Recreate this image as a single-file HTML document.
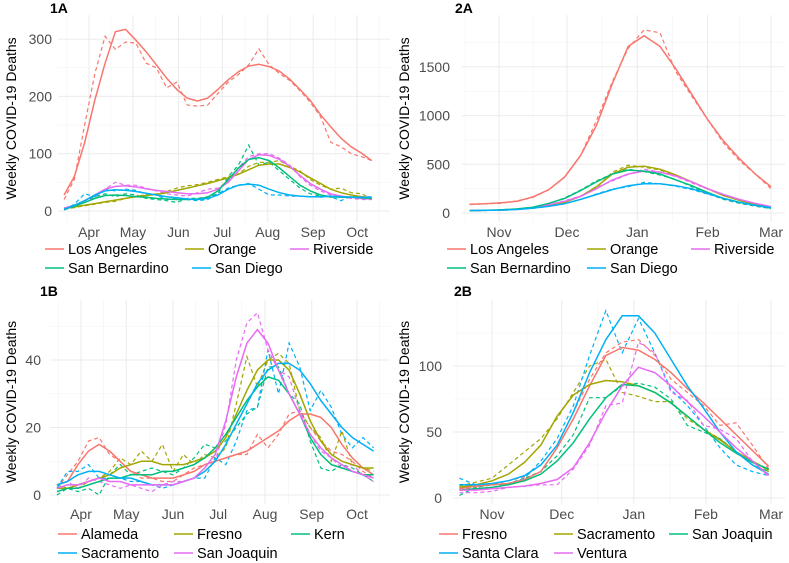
<!DOCTYPE html>
<html><head><meta charset="utf-8"><style>
body{margin:0;background:#fff}
svg{display:block;font-family:"Liberation Sans",sans-serif}
</style></head><body>
<svg id="chart" width="789" height="563" viewBox="0 0 789 563" xmlns="http://www.w3.org/2000/svg"></svg>
<script>
// ---------- data ----------
const p1aNames=["Los Angeles","Orange","Riverside","San Bernardino","San Diego"];
const p1aSmooth=[
[28,60,119,194,258,313,317,298,278,255,232,212,197,192,197,212,229,243,253,256,252,244,230,212,193,168,147,127,112,101,88],
[5,7,10,13,16,19,22,25,27,29,32,36,40,44,48,53,58,64,72,80,82,82,76,68,58,48,38,32,28,25,23],
[5,10,18,28,38,43,44,42,39,36,34,32,30,30,32,38,50,70,90,98,97,90,78,62,48,38,30,26,24,22,21],
[3,8,15,22,27,28,27,25,24,22,21,20,20,21,24,35,55,75,90,93,88,75,60,45,35,28,25,24,24,23,22],
[3,10,18,28,35,37,36,34,31,28,25,23,21,20,22,28,38,45,47,45,38,32,28,26,25,25,26,25,24,24,24]];
const p1aRaw=[
[20,55,150,240,305,282,295,293,258,250,215,225,185,183,185,205,225,238,255,283,255,240,228,210,190,165,120,112,100,95,88],
[3,6,9,12,15,17,22,26,28,30,34,40,44,46,50,55,60,65,78,85,85,88,78,70,55,45,38,40,32,30,22],
[2,10,15,25,38,50,45,45,40,35,30,28,26,32,38,40,52,75,95,100,100,92,80,60,45,35,28,25,22,20,20],
[2,8,18,25,30,25,30,28,22,20,18,15,22,22,25,30,60,80,115,80,85,70,55,40,30,26,24,25,25,22,20],
[2,12,30,25,38,35,38,36,30,28,20,22,20,18,20,30,40,45,48,38,28,28,26,26,25,24,25,18,26,25,25]];
const p2aNames=["Los Angeles","Orange","Riverside","San Bernardino","San Diego"];
const p2aSmooth=[
[90,95,105,120,165,240,370,590,900,1330,1710,1820,1710,1480,1220,960,740,560,400,270],
[25,28,30,38,55,80,110,170,270,400,470,480,450,390,320,250,180,130,90,60],
[25,28,30,38,55,85,120,170,250,340,400,430,420,380,320,250,190,140,100,65],
[25,28,32,42,60,100,150,230,320,400,440,430,400,340,280,210,150,110,80,50],
[25,28,30,36,50,70,95,140,190,240,280,300,300,280,250,200,150,110,80,55]];
const p2aRaw=[
[85,95,100,125,160,240,370,590,950,1350,1690,1880,1850,1450,1200,960,720,540,400,250],
[25,28,30,40,55,80,115,170,260,420,490,470,440,385,320,250,185,130,85,55],
[22,28,32,38,55,85,125,175,260,330,395,450,420,375,310,245,190,140,95,60],
[22,25,35,40,60,95,155,235,330,400,450,425,390,345,270,200,140,100,70,45],
[22,30,28,38,48,68,95,140,195,245,270,315,300,275,240,195,150,105,75,50]];
const p1bNames=["Alameda","Fresno","Kern","Sacramento","San Joaquin"];
const p1bSmooth=[
[3,4,9,13,15,13,10,7,6,5,5,5,6,7,9,10,11,12,13,15,17,19,22,24,24,23,20,15,11,8,6],
[2,2,3,4,5,6,8,9,10,10,9,9,9,10,11,13,17,24,31,37,40,40,37,30,22,16,12,10,9,8,8],
[1,2,2,3,4,5,5,6,6,6,7,7,8,9,11,14,18,23,28,32,35,34,30,24,17,12,9,8,7,6,6],
[3,4,6,7,7,6,5,5,4,3,3,3,4,5,7,10,15,21,27,33,37,39,39,37,33,28,24,20,17,15,13],
[2,3,3,4,5,4,4,3,3,3,3,3,4,5,8,12,22,35,45,49,45,37,30,24,18,14,11,9,7,6,5]];
const p1bRaw=[
[2,6,10,16,17,12,10,7,5,5,4,4,6,8,9,10,11,12,12,18,14,18,24,25,20,16,13,12,10,7,5],
[3,2,2,4,5,7,11,9,13,10,15,7,12,9,12,11,14,27,41,32,40,42,39,25,20,17,10,19,9,8,7],
[0,2,1,2,0,6,9,6,7,8,7,6,8,11,15,14,16,20,24,26,38,38,30,27,16,8,7,9,8,6,4],
[2,7,7,9,5,5,5,4,4,3,2,3,4,5,5,11,9,16,25,26,43,30,45,38,25,31,26,18,14,17,14],
[3,4,2,5,4,3,2,3,2,1,3,4,4,5,7,10,21,40,51,54,43,37,35,25,18,13,11,8,9,6,4]];
const p2bNames=["Fresno","Sacramento","San Joaquin","Santa Clara","Ventura"];
const p2bSmooth=[
[7,9,10,11,14,20,38,60,85,108,114,112,105,95,83,72,60,48,36,24],
[8,10,13,18,27,40,62,78,86,89,88,85,80,72,62,52,44,35,28,21],
[6,7,8,10,13,18,28,42,60,76,86,85,80,72,62,52,42,34,27,22],
[10,10,11,13,17,25,40,65,95,120,138,138,125,105,85,68,50,35,25,18],
[6,6,7,8,9,11,14,23,42,65,85,99,95,85,73,62,50,38,28,17]];
const p2bRaw=[
[6,8,10,13,16,25,40,65,90,110,118,120,108,90,80,70,55,57,40,22],
[9,12,15,25,35,45,60,80,100,105,80,77,73,73,60,52,45,35,25,20],
[2,8,10,10,15,20,32,48,76,76,85,87,84,75,55,50,45,35,25,20],
[15,10,10,11,15,28,45,70,108,142,110,136,110,82,70,55,38,25,20,17],
[4,4,5,8,9,10,10,22,40,70,72,118,110,80,74,55,52,45,28,16]];
const monthsA=["Apr","May","Jun","Jul","Aug","Sep","Oct"];
const monthDaysA=[0,30,61,91,122,153,183];
const monthsB=["Nov","Dec","Jan","Feb","Mar"];
const monthDaysB=[0,30,61,92,120];
const ticks1a=[0,100,200,300];
const ticks2a=[0,500,1000,1500];
const ticks1b=[0,20,40];
const ticks2b=[0,50,100];
const cols1=["#F8766D","#A3A500","#E76BF3","#00BF7D","#00B0F6"];
const cols1b=["#F8766D","#A3A500","#00BF7D","#00B0F6","#E76BF3"];
const cols2b=["#F8766D","#A3A500","#00BF7D","#00B0F6","#E76BF3"];

const NS="http://www.w3.org/2000/svg";
const svg=document.getElementById('chart');
function mk(tag,attrs,parent){const e=document.createElementNS(NS,tag);for(const k in attrs)e.setAttribute(k,attrs[k]);(parent||svg).appendChild(e);return e;}

function panel(o){
  const g=mk('g',{});
  
  
  const xs=d=>o.x0+o.pxDay*d;
  const ys=v=>o.y0-v*o.pxVal;
  for(let i=0;i<o.ticks.length;i++){
    const step=o.ticks[1]-o.ticks[0];
    const yv=ys(o.ticks[i]+step/2);
    if(yv>o.top) mk('line',{x1:o.left,x2:o.right,y1:yv,y2:yv,stroke:'#f3f3f3','stroke-width':0.6},g);
  }
  for(let i=0;i<o.mdays.length-1;i++){
    const xv=xs((o.mdays[i]+o.mdays[i+1])/2);
    mk('line',{x1:xv,x2:xv,y1:o.top,y2:o.bottom,stroke:'#f3f3f3','stroke-width':0.6},g);
  }
  const xfirst=xs(o.mdays[0]-(o.mdays[1]-o.mdays[0])/2);
  if(xfirst>o.left) mk('line',{x1:xfirst,x2:xfirst,y1:o.top,y2:o.bottom,stroke:'#f3f3f3','stroke-width':0.6},g);
  const lastMid=xs(o.mdays[o.mdays.length-1]+(o.mdays[1]-o.mdays[0])/2);
  if(lastMid<o.right) mk('line',{x1:lastMid,x2:lastMid,y1:o.top,y2:o.bottom,stroke:'#f3f3f3','stroke-width':0.6},g);
  o.ticks.forEach(t=>{
    const yv=ys(t);
    const gl=mk('line',{x1:o.left,x2:o.right,y1:yv,y2:yv,stroke:'#ebebeb','stroke-width':1},g);
    
    
    const tx=mk('text',{x:o.ylabX,y:yv+5,'text-anchor':'end','font-size':14,fill:'#4d4d4d'},g);
    tx.textContent=t;
    
    
  });
  o.mdays.forEach((d,i)=>{
    const xv=xs(d);
    const gl=mk('line',{x1:xv,x2:xv,y1:o.top,y2:o.bottom,stroke:'#ebebeb','stroke-width':1},g);
    
    
    const tx=mk('text',{x:xv,y:o.bottom+15,'text-anchor':'middle','font-size':14,fill:'#4d4d4d'},g);
    tx.textContent=o.months[i];
    
    
  });
  o.smooth.forEach((s,si)=>{
    const ptsR=o.raw[si].map((v,k)=>xs(o.start+7*k).toFixed(1)+','+ys(v).toFixed(1)).join(' ');
    const r=mk('polyline',{points:ptsR,fill:'none',stroke:o.cols[si],'stroke-width':1.2,'stroke-dasharray':'4,3'},g);
    
    
  });
  o.smooth.forEach((s,si)=>{
    const pts=s.map((v,k)=>xs(o.start+7*k).toFixed(1)+','+ys(v).toFixed(1)).join(' ');
    const l=mk('polyline',{points:pts,fill:'none',stroke:o.cols[si],'stroke-width':1.5,'stroke-linejoin':'round'},g);
    
    
  });
  const t=mk('text',{x:o.titleX,y:o.titleY,'font-size':14,'font-weight':'bold',fill:'#000'},g);
  t.textContent=o.title;
  
  
  const yt=mk('text',{x:0,y:0,'font-size':14,fill:'#000','text-anchor':'middle',transform:`translate(${o.ytX},${(o.top+o.bottom)/2}) rotate(-90)`},g);
  yt.textContent='Weekly COVID-19 Deaths';
  
  
  o.legPos.forEach((p,i)=>{
    const lg=mk('g',{},g);
    
    
    mk('line',{x1:p[0]-23,x2:p[0]-4,y1:p[1]-5,y2:p[1]-5,stroke:o.cols[i],'stroke-width':1.5},lg);
    const tx=mk('text',{x:p[0],y:p[1],'font-size':14.5,fill:'#000'},lg);
    tx.textContent=o.names[i];
  });
}

panel({id:'1a',title:'1A',titleX:50,titleY:13,left:58,right:390,top:15,bottom:222,x0:89,pxDay:1.465,y0:211,pxVal:0.573,
  start:-17,ticks:ticks1a,ylabX:52,ytX:16,months:monthsA,mdays:monthDaysA,names:p1aNames,smooth:p1aSmooth,raw:p1aRaw,cols:cols1,
  legPos:[[68,254],[208,254],[313,254],[68,273],[215,273]]});
panel({id:'2a',title:'2A',titleX:455,titleY:13,left:462,right:785,top:15,bottom:222,x0:499,pxDay:2.267,y0:213,pxVal:0.0974,
  start:-13,ticks:ticks2a,ylabX:450,ytX:409,months:monthsB,mdays:monthDaysB,names:p2aNames,smooth:p2aSmooth,raw:p2aRaw,cols:cols1,
  legPos:[[470,254],[610,254],[714,254],[470,273],[610,273]]});
panel({id:'1b',title:'1B',titleX:40,titleY:296,left:50,right:390,top:300,bottom:504,x0:81,pxDay:1.508,y0:495,pxVal:3.375,
  start:-16,ticks:ticks1b,ylabX:41,ytX:16,months:monthsA,mdays:monthDaysA,names:p1bNames,smooth:p1bSmooth,raw:p1bRaw,cols:cols1b,
  legPos:[[81,539],[197,539],[314,539],[81,558],[197,558]]});
panel({id:'2b',title:'2B',titleX:454,titleY:296,left:453,right:785,top:300,bottom:504,x0:492,pxDay:2.325,y0:498,pxVal:1.32,
  start:-14,ticks:ticks2b,ylabX:442,ytX:409,months:monthsB,mdays:monthDaysB,names:p2bNames,smooth:p2bSmooth,raw:p2bRaw,cols:cols2b,
  legPos:[[462,539],[577,539],[692,539],[462,558],[577,558]]});
</script>
</body></html>
